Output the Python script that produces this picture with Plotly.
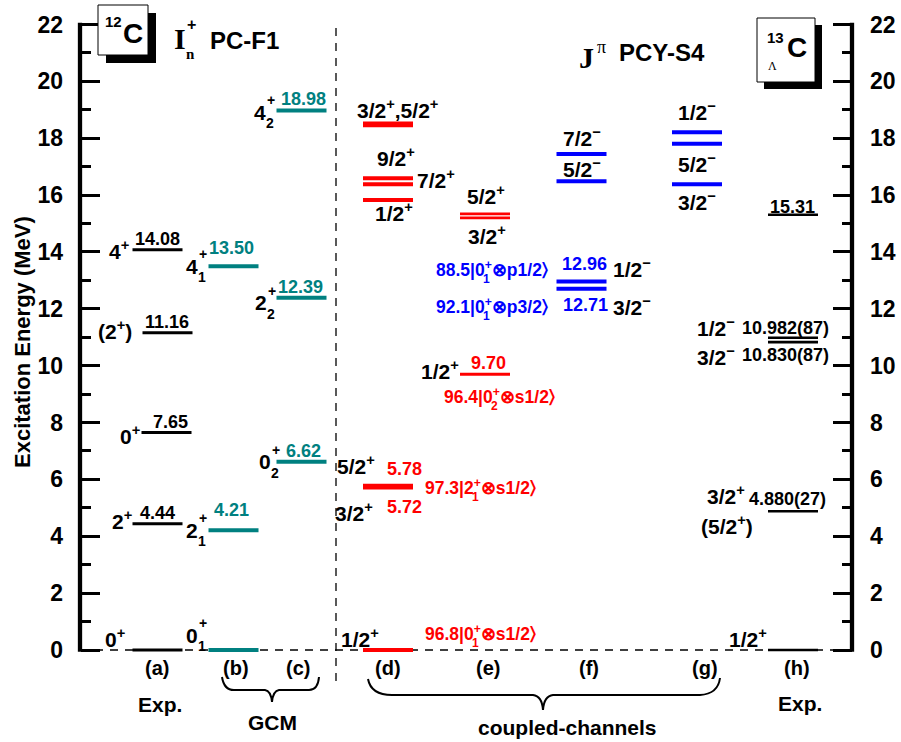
import plotly.graph_objects as go

FONT = "Liberation Sans, Arial, sans-serif"
SERIF = "Liberation Serif, Times New Roman, serif"
BLACK = "#000000"
TEAL = "#008080"
RED = "#ff0000"
BLUE = "#0000ff"

# ---------------- level energies (MeV) ----------------
# (a) 12C experiment
exp12_E = [0.00, 4.44, 7.65, 11.16, 14.08]
exp12_J = ["0+", "2+", "0+", "(2+)", "4+"]
# (b), (c) 12C GCM with PC-F1
gcm_b_E = [0.00, 4.21, 13.50]
gcm_b_J = ["0", "2", "4"]
gcm_b_n = ["1", "1", "1"]
gcm_c_E = [6.62, 12.39, 18.98]
gcm_c_J = ["0", "2", "4"]
gcm_c_n = ["2", "2", "2"]
# (d)-(g) 13_Lambda C coupled-channels with PCY-S4
cc_d_E = [0.00, 5.72, 5.78, 15.83, 16.38, 16.59, 18.46, 18.52]
cc_d_J = ["1/2+", "3/2+", "5/2+", "1/2+", "7/2+", "9/2+", "3/2+", "5/2+"]
cc_e_E = [9.70, 15.20, 15.34]
cc_e_J = ["1/2+", "3/2+", "5/2+"]
cc_f_E = [12.71, 12.96, 16.49, 17.45]
cc_f_J = ["3/2-", "1/2-", "5/2-", "7/2-"]
cc_g_E = [16.38, 17.81, 18.21]
cc_g_J = ["3/2-", "5/2-", "1/2-"]
# (h) 13_Lambda C experiment
exp13_E = [0.000, 4.880, 10.830, 10.982, 15.31]
exp13_err = ["", "27", "87", "87", ""]
# main-component weights (%)
comp_weight = [96.8, 97.3, 96.4, 88.5, 92.1]
comp_core = [("0", "1"), ("2", "1"), ("0", "2"), ("0", "1"), ("0", "1")]
comp_orb = ["s1/2", "s1/2", "s1/2", "p1/2", "p3/2"]

tick_vals = [0, 2, 4, 6, 8, 10, 12, 14, 16, 18, 20, 22]
minor_vals = [1, 3, 5, 7, 9, 11, 13, 15, 17, 19, 21]
panel_tags = ["(a)", "(b)", "(c)", "(d)", "(e)", "(f)", "(g)", "(h)"]

# ---------------- layout geometry ----------------
W, H = 901, 742
Y0_PX = 650.0        # page row of 0 MeV
PX_PER_MEV = 28.43
AX_L, AX_R = 80, 852


def e_of(py):
    """page row -> energy units (for decorations)"""
    return (Y0_PX - py) / PX_PER_MEV


COL = dict(a=157.5, b=233.5, c=301.5, d=388, e=485, f=581.5, g=697, h=793)
HALF = 25
A_SHIFT = [0, 0, 9, 10, 0]   # horizontal offsets of the (a) levels

fig = go.Figure()


def levels(col, energies, color, width, shifts=None):
    xs, ys = [], []
    shifts = shifts or [0] * len(energies)
    for E, s in zip(energies, shifts):
        xs += [COL[col] - HALF + s, COL[col] + HALF + s, None]
        ys += [E, E, None]
    fig.add_trace(go.Scatter(x=xs, y=ys, mode="lines", hoverinfo="skip",
                             line=dict(color=color, width=width), showlegend=False))


def txt(x, y, text, size=21, color=BLACK, dy=0, xanchor="center", family=FONT,
        bold=True, angle=0):
    fig.add_annotation(x=x, y=y, text=text, showarrow=False, xanchor=xanchor,
                       yanchor="middle", yshift=dy, textangle=angle,
                       font=dict(family=family, size=size, color=color,
                                 weight="bold" if bold else "normal"))


def jp(s):
    return s.replace("+", "<sup>+</sup>").replace("-", "<sup>\u2212</sup>")


def stacked(x, y, main, sub, dy=0, size=21):
    txt(x, y, main, size=size, dy=dy)
    txt(x + 11, y, "+", size=14, dy=dy + 12)
    txt(x + 10, y, sub, size=14, dy=dy - 11)


COMP_SIZE = 17.5


def comp(i, x_left, y, dy, color):
    core, n = comp_core[i]
    t = f"{comp_weight[i]:.1f}|{core}<sup>+</sup>\u2297{comp_orb[i]}\u232a"
    txt(x_left, y, t, size=COMP_SIZE, color=color, dy=dy, xanchor="left")
    # subscript stacked under the "+" (prefix "dd.d|d" is 2.78 em wide)
    txt(x_left + 2.98 * COMP_SIZE, y, n, size=12, color=color, dy=dy - 10)


# dashed guide lines
fig.add_trace(go.Scatter(x=[AX_L, AX_R], y=[0, 0], mode="lines", hoverinfo="skip",
                         line=dict(color=BLACK, width=1.5, dash="8px,7px"), showlegend=False))
fig.add_trace(go.Scatter(x=[336, 336], y=[e_of(28), e_of(685)], mode="lines", hoverinfo="skip",
                         line=dict(color=BLACK, width=1.3, dash="8px,7px"), showlegend=False))

# axis lines
fig.add_trace(go.Scatter(x=[AX_L, AX_L], y=[-0.06, 22.06], mode="lines", hoverinfo="skip",
                         line=dict(color=BLACK, width=4.3), showlegend=False))
fig.add_trace(go.Scatter(x=[AX_R, AX_R], y=[-0.06, 22.06], mode="lines", hoverinfo="skip",
                         line=dict(color=BLACK, width=4.3), showlegend=False, yaxis="y2"))

# level lines
levels("a", exp12_E, BLACK, 3, A_SHIFT)
levels("b", gcm_b_E, TEAL, 4)
levels("c", gcm_c_E, TEAL, 4)
levels("d", cc_d_E, RED, 4)
levels("e", cc_e_E, RED, 2.8)
levels("f", cc_f_E, BLUE, 4)
levels("g", cc_g_E, BLUE, 4)
levels("h", exp13_E, BLACK, 2.6)

# ---- (a) 12C exp ----
spin_x_a = [115, 122, 130, 115, 119]
spin_dy_a = [12, 4, -2, 3, 0]
val_x_a = [None, 157, 170, 167, 157.5]
for E, J, sx, sdy, vx in zip(exp12_E, exp12_J, spin_x_a, spin_dy_a, val_x_a):
    txt(sx, E, jp(J), dy=sdy)
    if vx is not None:
        txt(vx, E, f"{E:.2f}", size=18, dy=11)

# ---- (b) GCM ----
for E, J, n, dy in zip(gcm_b_E, gcm_b_J, gcm_b_n, [15, 0, 0]):
    stacked(191.5, E, J, n, dy=dy)
for E, vdy in zip(gcm_b_E[1:], [20, 18]):
    txt(231, E, f"{E:.2f}", size=18, color=TEAL, dy=vdy)

# ---- (c) GCM ----
for E, J, n, x, dy in zip(gcm_c_E, gcm_c_J, gcm_c_n, [264.5, 260.5, 260], [0, -5, -2]):
    stacked(x, E, J, n, dy=dy)
for E, vx in zip(gcm_c_E, [303, 300, 303.5]):
    txt(vx, E, f"{E:.2f}", size=18, color=TEAL, dy=11)

# ---- (d) coupled channels ----
txt(360, cc_d_E[0], jp(cc_d_J[0]), dy=12)
txt(354, cc_d_E[1], jp(cc_d_J[1]), dy=-25)
txt(356, cc_d_E[2], jp(cc_d_J[2]), dy=21)
txt(404.5, cc_d_E[1], f"{cc_d_E[1]:.2f}", size=18, color=RED, dy=-20)
txt(404.5, cc_d_E[2], f"{cc_d_E[2]:.2f}", size=18, color=RED, dy=17)
txt(394, cc_d_E[3], jp(cc_d_J[3]), dy=-12)
txt(435.5, cc_d_E[5], jp(cc_d_J[4]), dy=-1)
txt(395.5, cc_d_E[5], jp(cc_d_J[5]), dy=21)
txt(397.5, cc_d_E[7], jp(cc_d_J[6] + "," + cc_d_J[7]), dy=14)
comp(0, 423, cc_d_E[0], 17, RED)
comp(1, 423, cc_d_E[1], 0, RED)

# ---- (e) ----
txt(440, cc_e_E[0], jp(cc_e_J[0]), dy=4)
txt(488.5, cc_e_E[0], f"{cc_e_E[0]:.2f}", size=18, color=RED, dy=11)
comp(2, 442, cc_e_E[0], -22, RED)
txt(486, cc_e_E[2], jp(cc_e_J[2]), dy=19)
txt(487, cc_e_E[1], jp(cc_e_J[1]), dy=-17)

# ---- (f) ----
txt(584, cc_f_E[1], f"{cc_f_E[1]:.2f}", size=18, color=BLUE, dy=18)
txt(632, cc_f_E[1], jp(cc_f_J[1]), dy=14)
txt(585, cc_f_E[0], f"{cc_f_E[0]:.2f}", size=18, color=BLUE, dy=-16)
txt(632, cc_f_E[0], jp(cc_f_J[0]), dy=-17)
comp(3, 434, cc_f_E[1], 13, BLUE)
comp(4, 434, cc_f_E[0], -17, BLUE)
txt(582, cc_f_E[3], jp(cc_f_J[3]), dy=17)
txt(582, cc_f_E[2], jp(cc_f_J[2]), dy=13)

# ---- (g) ----
txt(697, cc_g_E[2], jp(cc_g_J[2]), dy=21)
txt(697, cc_g_E[1], jp(cc_g_J[1]), dy=-19)
txt(697, cc_g_E[0], jp(cc_g_J[0]), dy=-17)

# ---- (h) 13_Lambda C exp ----
txt(748, exp13_E[0], jp("1/2+"), dy=12)
txt(726, exp13_E[1], jp("3/2+"), dy=16)
txt(726.5, exp13_E[1], jp("(5/2+)"), dy=-14)
txt(787.5, exp13_E[1], f"{exp13_E[1]:.3f}({exp13_err[1]})", size=18, dy=12)
txt(716, exp13_E[2], jp("3/2-"), dy=-14)
txt(785, exp13_E[2], f"{exp13_E[2]:.3f}({exp13_err[2]})", size=18, dy=-13)
txt(715.5, exp13_E[3], jp("1/2-"), dy=11)
txt(785, exp13_E[3], f"{exp13_E[3]:.3f}({exp13_err[3]})", size=18, dy=9.5)
txt(792, exp13_E[4], f"{exp13_E[4]:.2f}", size=18, dy=8)

# ---- panel tags and group captions ----
for tag, x in zip(panel_tags, [157, 236, 298, 388, 488, 589, 705, 797]):
    txt(x, e_of(668), tag, size=20)
txt(160, e_of(704), "Exp.", size=21)
txt(800, e_of(703), "Exp.", size=21)
txt(272, e_of(722), "GCM", size=21)
txt(567, e_of(727), "coupled-channels", size=21)


# braces
def P(x, py):
    return f"{x},{e_of(py):.4f}"


gcm_brace = (f"M {P(222, 677)} Q {P(224, 690)} {P(234, 690)} L {P(265, 690)} "
             f"Q {P(271, 691)} {P(272, 702)} Q {P(273, 691)} {P(279, 690)} "
             f"L {P(309, 690)} Q {P(318, 690)} {P(319, 677)}")
cc_brace = (f"M {P(368, 679)} Q {P(371, 695)} {P(392, 695)} L {P(533, 695)} "
            f"Q {P(542, 696)} {P(543, 710)} Q {P(544, 696)} {P(553, 695)} "
            f"L {P(700, 695)} Q {P(718, 694)} {P(720, 678)}")
for p in (gcm_brace, cc_brace):
    fig.add_shape(type="path", path=p, xref="x", yref="y",
                  line=dict(color=BLACK, width=2))


# nucleus boxes with drop shadow
def box(x0, y0, x1, y1, off):
    fig.add_shape(type="rect", xref="x", yref="y", x0=x0 + off, x1=x1 + off,
                  y0=e_of(y0 + off), y1=e_of(y1 + off), fillcolor=BLACK,
                  line=dict(width=0))
    fig.add_shape(type="rect", xref="x", yref="y", x0=x0, x1=x1,
                  y0=e_of(y0), y1=e_of(y1), fillcolor="white",
                  line=dict(color=BLACK, width=1))


box(98, 5, 148, 55, 8)
txt(113, e_of(21), "12", size=15)
txt(132.5, e_of(33), "C", size=28)
box(757, 18, 815, 82, 7)
txt(775.5, e_of(37.5), "13", size=15)
txt(797, e_of(47.5), "C", size=28)
txt(772.5, e_of(66), "\u039b", size=12, family=SERIF, bold=False)

# model titles
txt(180, e_of(38), "I", size=30, family=SERIF, bold=True)
txt(191, e_of(24), "+", size=16, family=FONT, bold=True)
txt(190, e_of(54), "n", size=15, family=SERIF, bold=True)
txt(208, e_of(40), "PC-F1", size=24, xanchor="left")
txt(586, e_of(57), "J", size=30, family=SERIF, bold=True)
txt(601, e_of(47), "\u03c0", size=18, family=SERIF, bold=False)
txt(617, e_of(52), "PCY-S4", size=24, xanchor="left")

# axis title
txt(22, e_of(342), "Excitation Energy (MeV)", size=22, angle=-90)

axis_common = dict(
    range=[e_of(H), e_of(0)], tickmode="array", tickvals=tick_vals,
    ticks="inside", ticklen=19, tickwidth=3.3, tickcolor=BLACK,
    showgrid=False, zeroline=False, showline=False, anchor="free",
    ticklabelstandoff=17,
    tickfont=dict(family=FONT, size=23, color=BLACK, weight="bold"),
    minor=dict(tickmode="array", tickvals=minor_vals, ticks="inside", ticklen=10,
               tickwidth=3.3, tickcolor=BLACK, showgrid=False),
)

fig.update_layout(
    width=W, height=H, margin=dict(l=0, r=0, t=0, b=0),
    paper_bgcolor="white", plot_bgcolor="white", showlegend=False,
    xaxis=dict(range=[0, W], visible=False),
    yaxis=dict(side="left", position=AX_L / W, **axis_common),
    yaxis2=dict(side="right", position=AX_R / W, overlaying="y", **axis_common),
)

fig.write_html("out.html")
